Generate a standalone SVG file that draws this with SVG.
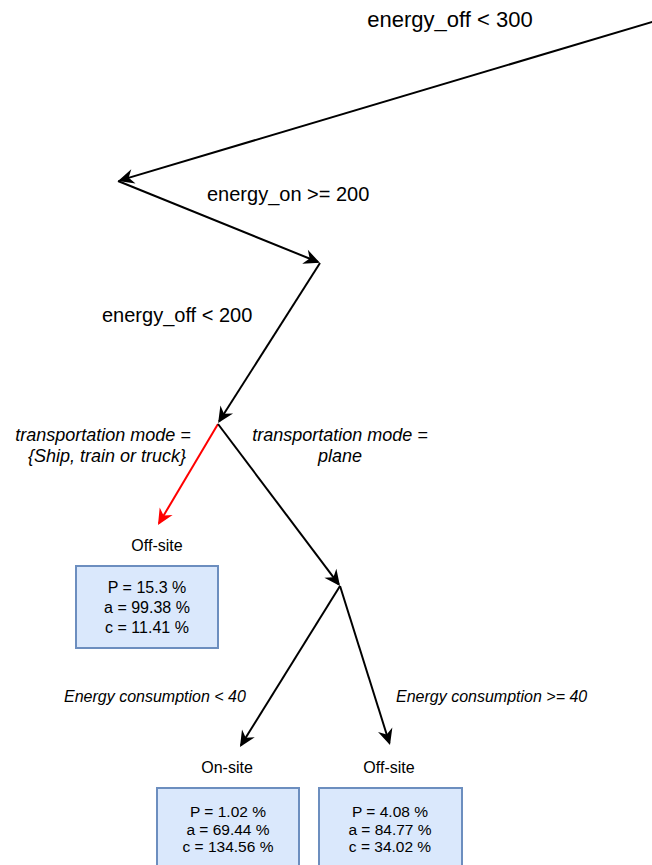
<svg xmlns="http://www.w3.org/2000/svg" width="652" height="865" viewBox="0 0 652 865">
<style>
text{font-family:"Liberation Sans",Arial,Helvetica,sans-serif;fill:#000}
.lbl{font-size:20px}
.it{font-size:18px;font-style:italic;text-anchor:middle}
.it2{font-size:16px;font-style:italic}
.leaf{font-size:16px;text-anchor:middle}
.box{fill:#dae8fc;stroke:#6c8ebf;stroke-width:2}
.bt{font-size:16px;text-anchor:middle}
.bt2{font-size:15.5px;text-anchor:middle}
.e{fill:none;stroke:#000;stroke-width:2;marker-end:url(#ab)}
.r{fill:none;stroke:#ff0000;stroke-width:2;marker-end:url(#ar)}
</style>
<defs>
<marker id="ab" viewBox="-16 -9 20 18" markerWidth="20" markerHeight="18" refX="0" refY="0" orient="auto" markerUnits="userSpaceOnUse">
<path d="M2,0 L-14,-7.5 L-9,0 L-14,7.5 Z" fill="#000"/>
</marker>
<marker id="ar" viewBox="-16 -9 20 18" markerWidth="20" markerHeight="18" refX="0" refY="0" orient="auto" markerUnits="userSpaceOnUse">
<path d="M2,0 L-14,-7.5 L-9,0 L-14,7.5 Z" fill="#ff0000"/>
</marker>
</defs>
<rect width="652" height="865" fill="#fff"/>
<g id="connectors">
<path class="e" d="M660,19.6 L120,180.4"/>
<path class="e" d="M118,181 L318,262"/>
<path class="e" d="M320,263 L219.2,421.3"/>
<path class="r" d="M218,424 L159,523.3"/>
<path class="e" d="M218,424 L338.8,584.4"/>
<path class="e" d="M340,586 L241,745.3"/>
<path class="e" d="M340,586 L389.4,743"/>
</g>
<g id="edge-labels">
<text class="lbl" x="450" y="27" text-anchor="middle" style="font-size:22px">energy_off &lt; 300</text>
<text class="lbl" x="207" y="201">energy_on &gt;= 200</text>
<text class="lbl" x="102" y="322">energy_off &lt; 200</text>
<text class="it" x="103" y="441">transportation mode =</text>
<text class="it" x="107" y="462">{Ship, train or truck}</text>
<text class="it" x="340" y="441">transportation mode =</text>
<text class="it" x="340" y="462">plane</text>
<text class="it2" x="64" y="702">Energy consumption &lt; 40</text>
<text class="it2" x="396" y="702">Energy consumption &gt;= 40</text>
</g>
<g id="leaf-offsite-1">
<text class="leaf" x="157" y="551">Off-site</text>
<rect class="box" x="76" y="566" width="142" height="82"/>
<text class="bt" x="147" y="593">P = 15.3 %</text>
<text class="bt" x="147" y="613">a = 99.38 %</text>
<text class="bt" x="147" y="633">c = 11.41 %</text>
</g>
<g id="leaf-onsite">
<text class="leaf" x="227" y="773">On-site</text>
<rect class="box" x="157" y="788" width="142" height="90"/>
<text class="bt2" x="228" y="817">P = 1.02 %</text>
<text class="bt2" x="228" y="834.5">a = 69.44 %</text>
<text class="bt2" x="228" y="852">c = 134.56 %</text>
</g>
<g id="leaf-offsite-2">
<text class="leaf" x="389" y="773">Off-site</text>
<rect class="box" x="319" y="788" width="143" height="90"/>
<text class="bt2" x="390" y="817">P = 4.08 %</text>
<text class="bt2" x="390" y="834.5">a = 84.77 %</text>
<text class="bt2" x="390" y="852">c = 34.02 %</text>
</g>
</svg>
